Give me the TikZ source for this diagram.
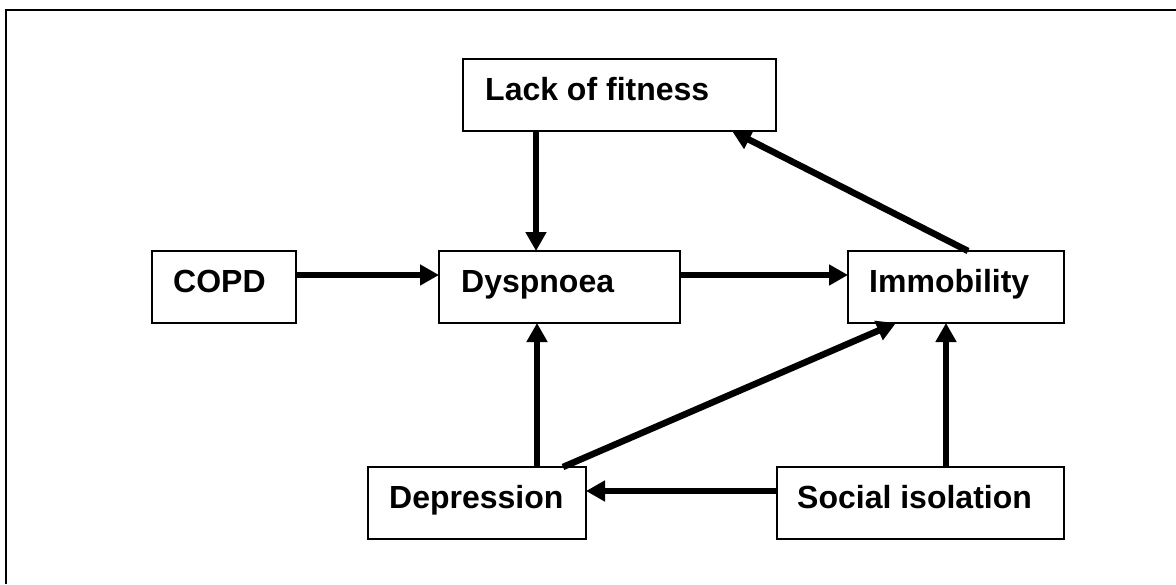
\documentclass[tikz,border=0pt]{standalone}
\usepackage{fontspec}
\setmainfont{Liberation Sans}
\usetikzlibrary{arrows.meta}
\tikzset{
  box/.style={draw=black, line width=2pt, rectangle, inner sep=0pt, outer sep=0pt, fill=white},
  lbl/.style={anchor=base west, inner sep=0pt, font=\bfseries\fontsize{32}{38}\selectfont},
  conn/.style={line width=6.5pt, -{Triangle[length=19pt,width=20pt]}},
}
\begin{document}
\begin{tikzpicture}[x=1pt,y=-1pt]
\useasboundingbox (0,0) rectangle (1176,584);
\fill[white] (0,0) rectangle (1176,584);
\coordinate (fbl) at (6,584);
\coordinate (ftl) at (6,10);
\coordinate (ftr) at (1176,10);
\draw[line width=2pt] (fbl) -- (ftl) -- (ftr);

\node[box, minimum width=313pt, minimum height=72pt] (lack) at (619.5,95) {};
\node[box, minimum width=144pt, minimum height=72pt] (copd) at (224,287) {};
\node[box, minimum width=241pt, minimum height=72pt] (dysp) at (559.5,287) {};
\node[box, minimum width=216pt, minimum height=72pt] (imm) at (956,287) {};
\node[box, minimum width=218pt, minimum height=72pt] (dep) at (477,503) {};
\node[box, minimum width=287pt, minimum height=72pt] (soc) at (920.5,503) {};

\node[lbl] (tlack) at ([xshift=22pt,yshift=-41pt]lack.north west) {Lack of fitness};
\node[lbl] (tcopd) at ([xshift=21pt,yshift=-41pt]copd.north west) {COPD};
\node[lbl] (tdysp) at ([xshift=22pt,yshift=-41pt]dysp.north west) {Dyspnoea};
\node[lbl] (timm) at ([xshift=21pt,yshift=-41pt]imm.north west) {Immobility};
\node[lbl] (tdep) at ([xshift=21pt,yshift=-41pt]dep.north west) {Depression};
\node[lbl] (tsoc) at ([xshift=20pt,yshift=-41pt]soc.north west) {Social isolation};

\draw[conn] ([xshift=73pt]lack.south west) -- ([xshift=97pt]dysp.north west);
\draw[conn] ([yshift=12pt]copd.east) -- ([yshift=12pt]dysp.west);
\draw[conn] ([yshift=12pt]dysp.east) -- ([yshift=12pt]imm.west);
\draw[conn] ([xshift=12pt]imm.north) -- ([xshift=269pt]lack.south west);
\draw[conn] ([xshift=169pt]dep.north west) -- ([xshift=98pt]dysp.south west);
\draw[conn] ([xshift=195pt]dep.north west) -- ([xshift=48pt]imm.south west);
\draw[conn] ([xshift=169pt]soc.north west) -- ([xshift=98pt]imm.south west);
\draw[conn] ([yshift=-24pt]soc.north west) -- ([yshift=-24pt]dep.north east);
\end{tikzpicture}
\end{document}
